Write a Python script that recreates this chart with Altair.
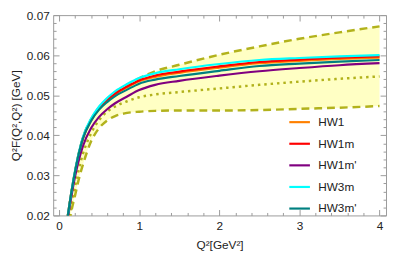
import altair as alt
import pandas as pd

# ---- data ----
q2 = [0.1, 0.15, 0.2, 0.25, 0.3, 0.4, 0.5, 0.6, 0.7, 0.85, 1.0, 1.2, 1.5, 2.0, 2.5, 3.0, 3.5, 4.0]

hw1 = [0.0187, 0.0252, 0.0309, 0.0357, 0.0393, 0.0437, 0.0466, 0.0486, 0.0502, 0.0520,
       0.0535, 0.0546, 0.0556, 0.0569, 0.0580, 0.0586, 0.0591, 0.0594]
hw1m = [0.0187, 0.0253, 0.0310, 0.0358, 0.0395, 0.0439, 0.0468, 0.0488, 0.0504, 0.0522,
        0.0537, 0.0549, 0.0559, 0.0572, 0.0583, 0.0589, 0.0594, 0.0597]
hw1mp = [0.0180, 0.0243, 0.0297, 0.0340, 0.0374, 0.0418, 0.0446, 0.0465, 0.0480, 0.0497,
         0.0513, 0.0526, 0.0536, 0.0549, 0.0560, 0.0568, 0.0575, 0.0580]
hw3m = [0.0188, 0.0254, 0.0312, 0.0360, 0.0397, 0.0442, 0.0472, 0.0493, 0.0510, 0.0528,
        0.0543, 0.0555, 0.0565, 0.0578, 0.0588, 0.0593, 0.0597, 0.0600]
hw3mp = [0.0187, 0.0253, 0.0310, 0.0357, 0.0393, 0.0436, 0.0464, 0.0483, 0.0498, 0.0514,
         0.0529, 0.0539, 0.0548, 0.0561, 0.0573, 0.0579, 0.0584, 0.0588]

band_hi = [0.0186, 0.0252, 0.0310, 0.0358, 0.0395, 0.0440, 0.0470, 0.0491, 0.0508, 0.0526,
           0.0542, 0.0560, 0.0576, 0.0601, 0.0622, 0.0641, 0.0657, 0.0672]
band_lo = [0.0120, 0.0205, 0.0250, 0.0293, 0.0328, 0.0385, 0.0418, 0.0437, 0.0448, 0.0456,
           0.0459, 0.0461, 0.0462, 0.0462, 0.0463, 0.0466, 0.0469, 0.0473]
band_mid = [0.0150, 0.0215, 0.0272, 0.0318, 0.0355, 0.0405, 0.0438, 0.0459, 0.0472, 0.0485,
            0.0495, 0.0502, 0.0508, 0.0517, 0.0526, 0.0534, 0.0541, 0.0547]

models = ["HW1", "HW1m", "HW1m'", "HW3m", "HW3m'"]
colors = ["#FF8000", "#FF0000", "#800080", "#00FFFF", "#008080"]
series = [hw1, hw1m, hw1mp, hw3m, hw3mp]

x_major = [0, 1, 2, 3, 4]
x_minor = [round(0.2 * i, 1) for i in range(21) if i % 5]
y_major = [0.02, 0.03, 0.04, 0.05, 0.06, 0.07]
y_minor = [round(0.02 + 0.002 * i, 3) for i in range(26) if i % 5]

# ---- tables ----
band_df = pd.DataFrame({"q2": q2, "lo": band_lo, "hi": band_hi, "mid": band_mid})
curve_df = pd.DataFrame(
    [{"q2": x, "F": v, "model": m} for m, s in zip(models, series) for x, v in zip(q2, s)]
)

FONT = "Liberation Sans"
FRAME = "#9a9a9a"
TXT = "#222222"
OLIVE = "#B2B21C"

xs = alt.Scale(domain=[-0.0735, 4.081], nice=False, zero=False)
ys = alt.Scale(domain=[0.02, 0.07], nice=False, zero=False)

common = dict(domain=False, grid=False, tickColor=FRAME, tickWidth=1,
              labelFont=FONT, labelFontSize=12, labelColor=TXT,
              titleFont=FONT, titleFontSize=12, titleFontWeight="normal", titleColor=TXT)

ax_bM = alt.Axis(orient="bottom", values=x_major, tickSize=6, offset=-6, labelPadding=5,
                 format="d", labelFlush=False, title="Q²[GeV²]",
                 titleY=40, titleBaseline="alphabetic", **common)
ax_bm = alt.Axis(orient="bottom", values=x_minor, tickSize=3, offset=-3, labels=False,
                 title=None, **common)
ax_tM = alt.Axis(orient="top", values=x_major, tickSize=6, offset=-6, labels=False,
                 title=None, **common)
ax_tm = alt.Axis(orient="top", values=x_minor, tickSize=3, offset=-3, labels=False,
                 title=None, **common)
ay_lM = alt.Axis(orient="left", values=y_major, tickSize=6, offset=-6, labelPadding=4,
                 format=".2f", labelFlush=False, title="Q²F(Q²,Q²) [GeV]",
                 titleX=-40, titleBaseline="alphabetic", **common)
ay_lm = alt.Axis(orient="left", values=y_minor, tickSize=3, offset=-3, labels=False,
                 title=None, **common)
ay_rM = alt.Axis(orient="right", values=y_major, tickSize=6, offset=-6, labels=False,
                 title=None, **common)
ay_rm = alt.Axis(orient="right", values=y_minor, tickSize=3, offset=-3, labels=False,
                 title=None, **common)

band = alt.Chart(band_df).mark_area(color="#FFFFC4", clip=True, interpolate="monotone").encode(
    x=alt.X("q2:Q", scale=xs, axis=ax_bM),
    y=alt.Y("lo:Q", scale=ys, axis=ay_lM),
    y2="hi:Q",
)
dotted = alt.Chart(band_df).mark_line(color=OLIVE, strokeWidth=2.5, strokeDash=[2.5, 4],
                                      clip=True, interpolate="monotone").encode(
    x=alt.X("q2:Q", scale=xs, axis=ax_tM),
    y=alt.Y("mid:Q", scale=ys, axis=ay_rM),
)
dash_lo = alt.Chart(band_df).mark_line(color=OLIVE, strokeWidth=2.5, strokeDash=[8, 5],
                                       clip=True, interpolate="monotone").encode(
    x=alt.X("q2:Q", scale=xs, axis=ax_bm),
    y=alt.Y("lo:Q", scale=ys, axis=ay_lm),
)
dash_hi = alt.Chart(band_df).mark_line(color=OLIVE, strokeWidth=2.5, strokeDash=[8, 5],
                                       clip=True, interpolate="monotone").encode(
    x=alt.X("q2:Q", scale=xs, axis=ax_tm),
    y=alt.Y("hi:Q", scale=ys, axis=ay_rm),
)

legend = alt.Legend(orient="none", legendX=239, legendY=97, title=None,
                    symbolType="stroke", symbolSize=441, symbolStrokeWidth=2.2,
                    labelFont=FONT, labelFontSize=12, labelColor=TXT,
                    labelOffset=7, rowPadding=4, padding=0)
color_scale = alt.Scale(domain=models, range=colors)

curves = []
for m in models:
    curves.append(
        alt.Chart(curve_df).transform_filter(alt.datum.model == m)
        .mark_line(strokeWidth=2.2, clip=True, interpolate="monotone")
        .encode(
            x=alt.X("q2:Q", scale=xs, axis=None),
            y=alt.Y("F:Q", scale=ys, axis=None),
            color=alt.Color("model:N", scale=color_scale, legend=legend),
        )
    )

chart = (
    alt.layer(band, dotted, dash_lo, dash_hi, *curves)
    .resolve_axis(x="independent", y="independent")
    .properties(width=339, height=204,
                padding={"left": 46, "top": 5, "right": 1, "bottom": 36},
                autosize=alt.AutoSizeParams(type="none"))
    .configure_view(stroke=FRAME, strokeWidth=1)
)

chart.save("out.html", embed_options={"renderer": "svg", "actions": False})
